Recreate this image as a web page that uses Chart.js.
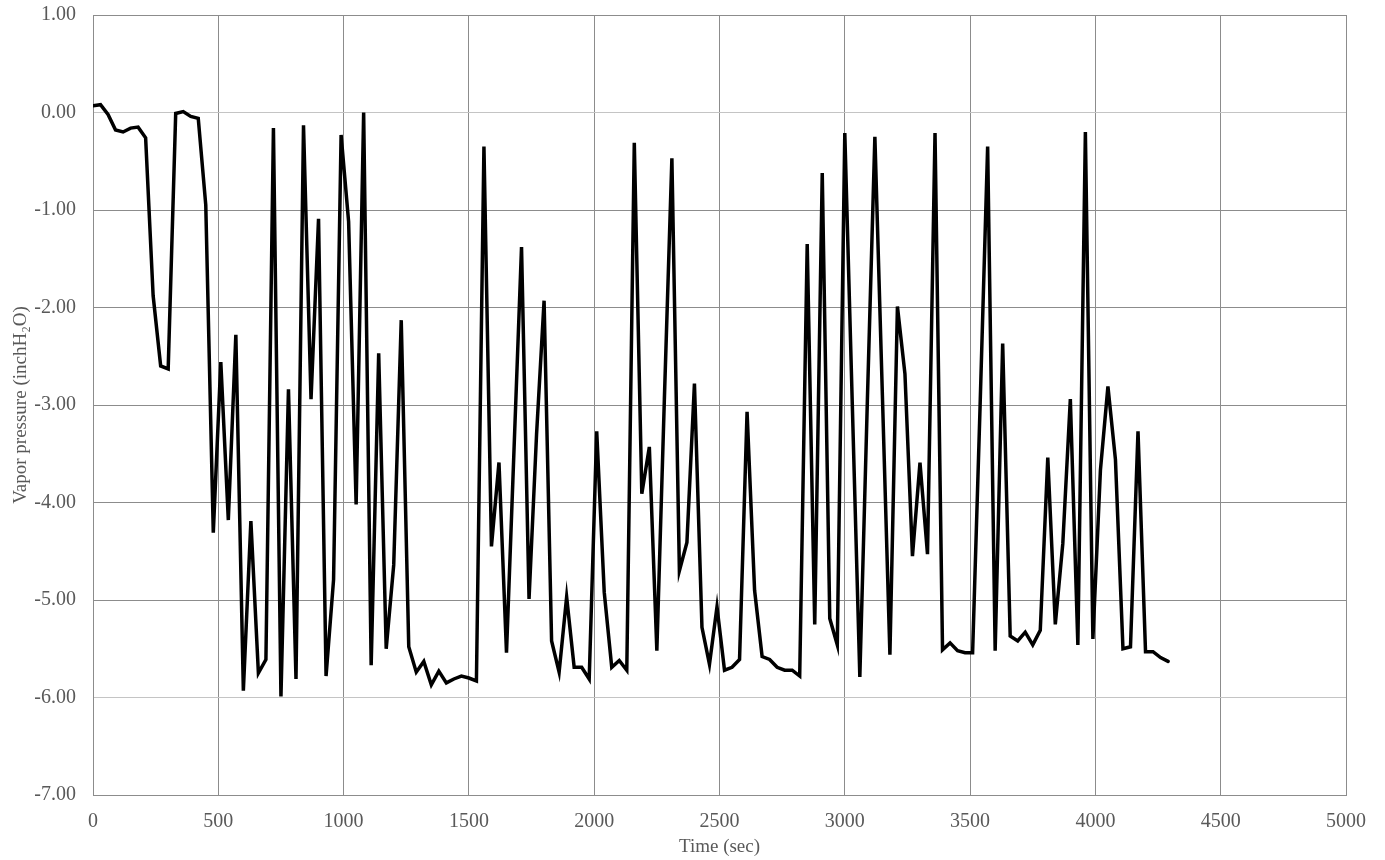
<!DOCTYPE html>
<html>
<head>
<meta charset="utf-8">
<script src="https://cdn.jsdelivr.net/npm/chart.js@4/dist/chart.umd.min.js"></script>
<style>
  html, body { margin: 0; padding: 0; background: #fff; }
  #wrap { width: 1385px; height: 860px; position: relative; }
</style>
</head>
<body>
<div id="wrap"><canvas id="chart"></canvas></div>
<script>
// sample times (sec)
const times = [
  0, 30, 60, 90, 120, 150, 180, 210, 240, 270, 300, 330, 360, 390, 420, 450,
  480, 510, 540, 570, 600, 630, 660, 690, 720, 750, 780, 810, 840, 870, 900, 930,
  960, 990, 1020, 1050, 1080, 1110, 1140, 1170, 1200, 1230, 1260, 1290, 1320, 1350, 1380, 1410,
  1440, 1470, 1500, 1530, 1560, 1590, 1620, 1650, 1680, 1710, 1740, 1770, 1800, 1830, 1860, 1890,
  1920, 1950, 1980, 2010, 2040, 2070, 2100, 2130, 2160, 2190, 2220, 2250, 2280, 2310, 2340, 2370,
  2400, 2430, 2460, 2490, 2520, 2550, 2580, 2610, 2640, 2670, 2700, 2730, 2760, 2790, 2820, 2850,
  2880, 2910, 2940, 2970, 3000, 3030, 3060, 3090, 3120, 3150, 3180, 3210, 3240, 3270, 3300, 3330,
  3360, 3390, 3420, 3450, 3480, 3510, 3540, 3570, 3600, 3630, 3660, 3690, 3720, 3750, 3780, 3810,
  3840, 3870, 3900, 3930, 3960, 3990, 4020, 4050, 4080, 4110, 4140, 4170, 4200, 4230, 4260, 4290
];

// vapor pressure (inchH2O)
const pressure = [
  0.07, 0.08, -0.02, -0.18, -0.20, -0.16, -0.15, -0.26, -1.88, -2.60, -2.63, -0.01, 0.01, -0.04, -0.06, -0.95,
  -4.31, -2.56, -4.18, -2.28, -5.93, -4.19, -5.75, -5.61, -0.16, -5.99, -2.84, -5.81, -0.13, -2.94, -1.09, -5.78,
  -4.79, -0.23, -1.12, -4.02, 0.00, -5.67, -2.47, -5.50, -4.64, -2.13, -5.48, -5.74, -5.63, -5.87, -5.73, -5.85,
  -5.81, -5.78, -5.80, -5.83, -0.35, -4.45, -3.59, -5.54, -3.46, -1.38, -4.99, -3.30, -1.93, -5.42, -5.74, -4.97,
  -5.69, -5.69, -5.81, -3.27, -4.92, -5.69, -5.62, -5.72, -0.31, -3.91, -3.43, -5.52, -2.94, -0.47, -4.70, -4.41,
  -2.78, -5.28, -5.66, -5.07, -5.72, -5.69, -5.61, -3.07, -4.90, -5.58, -5.61, -5.69, -5.72, -5.72, -5.78, -1.35,
  -5.25, -0.62, -5.19, -5.46, -0.21, -3.00, -5.79, -2.96, -0.25, -2.90, -5.56, -1.99, -2.68, -4.55, -3.59, -4.53,
  -0.21, -5.51, -5.44, -5.52, -5.54, -5.54, -3.00, -0.35, -5.52, -2.37, -5.37, -5.42, -5.33, -5.46, -5.31, -3.54,
  -5.25, -4.42, -2.94, -5.46, -0.20, -5.40, -3.67, -2.81, -3.56, -5.50, -5.48, -3.27, -5.53, -5.53, -5.59, -5.63
];

const xMin = 0, xMax = 5000, xStep = 500;
const yMin = -7, yMax = 1, yStep = 1;

const textColor = '#595959';
const fontFamily = '"Liberation Serif", "DejaVu Serif", serif';

new Chart(document.getElementById('chart'), {
  type: 'line',
  data: {
    datasets: [{
      label: 'Vapor pressure',
      data: times.map((t, i) => ({ x: t, y: pressure[i] })),
      borderColor: '#000',
      borderWidth: 3.5,
      pointRadius: 0,
      tension: 0,
      fill: false,
      borderJoinStyle: 'miter',
      borderCapStyle: 'round'
    }]
  },
  options: {
    responsive: true,
    maintainAspectRatio: false,
    animation: false,
    layout: { padding: { top: 15, right: 39, left: 0, bottom: 0 } },
    plugins: {
      legend: { display: false },
      tooltip: { enabled: false }
    },
    scales: {
      x: {
        type: 'linear',
        min: xMin, max: xMax,
        ticks: {
          stepSize: xStep,
          color: textColor,
          font: { family: fontFamily, size: 20 },
          padding: 15,
          maxRotation: 0,
          callback: (v) => String(v)
        },
        grid: { color: '#8c8c8c', lineWidth: 1, drawTicks: false },
        border: { color: '#8c8c8c', width: 1 },
        title: {
          display: true,
          text: 'Time (sec)',
          color: textColor,
          font: { family: fontFamily, size: 19 },
          padding: { top: 0, bottom: 2 }
        },
        afterFit: (scale) => {
          scale.height = 65;
          scale.paddingLeft = 0;
          scale.paddingRight = 0;
        }
      },
      y: {
        min: yMin, max: yMax,
        ticks: {
          stepSize: yStep,
          color: textColor,
          font: { family: fontFamily, size: 20 },
          padding: 17,
          callback: (v) => v.toFixed(2)
        },
        grid: {
          drawTicks: false,
          lineWidth: 1,
          color: (ctx) => {
            const v = ctx.tick ? ctx.tick.value : null;
            return (v === 0 || v === -6) ? '#c4c4c4' : '#8c8c8c';
          }
        },
        border: { color: '#8c8c8c', width: 1 },
        title: {
          display: true,
          text: 'Vapor pressure (inchH\u2082O)',
          color: textColor,
          font: { family: fontFamily, size: 19 },
          padding: { top: 10, bottom: 0 }
        },
        afterFit: (scale) => {
          scale.width = 93;
          scale.paddingTop = 0;
          scale.paddingBottom = 0;
        }
      }
    }
  }
});
</script>
</body>
</html>
